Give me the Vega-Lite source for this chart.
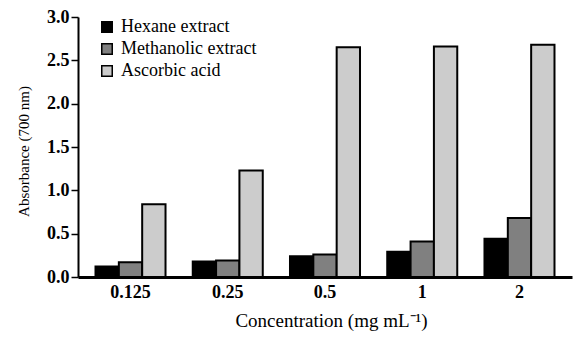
{
  "$schema": "https://vega.github.io/schema/vega-lite/v6.json",
  "autosize": "none",
  "width": 494,
  "height": 260,
  "padding": {"left": 78, "top": 17, "right": 12, "bottom": 64},
  "background": "white",
  "data": {
    "values": [
      {"conc": "0.125", "series": "Hexane extract", "value": 0.12},
      {"conc": "0.125", "series": "Methanolic extract", "value": 0.17},
      {"conc": "0.125", "series": "Ascorbic acid", "value": 0.84},
      {"conc": "0.25", "series": "Hexane extract", "value": 0.18},
      {"conc": "0.25", "series": "Methanolic extract", "value": 0.19},
      {"conc": "0.25", "series": "Ascorbic acid", "value": 1.23},
      {"conc": "0.5", "series": "Hexane extract", "value": 0.24},
      {"conc": "0.5", "series": "Methanolic extract", "value": 0.26},
      {"conc": "0.5", "series": "Ascorbic acid", "value": 2.65},
      {"conc": "1", "series": "Hexane extract", "value": 0.29},
      {"conc": "1", "series": "Methanolic extract", "value": 0.41},
      {"conc": "1", "series": "Ascorbic acid", "value": 2.66},
      {"conc": "2", "series": "Hexane extract", "value": 0.44},
      {"conc": "2", "series": "Methanolic extract", "value": 0.68},
      {"conc": "2", "series": "Ascorbic acid", "value": 2.68}
    ]
  },
  "mark": {"type": "bar", "stroke": "black", "strokeWidth": 2},
  "encoding": {
    "x": {
      "field": "conc", "type": "nominal", "sort": ["0.125", "0.25", "0.5", "1", "2"],
      "scale": {"paddingInner": 0.28, "paddingOuter": 0.18},
      "axis": {
        "title": "Concentration (mg mL⁻¹)", "labelAngle": 0, "ticks": false,
        "domainColor": "black", "domainWidth": 3,
        "labelFont": "Times New Roman, Liberation Serif, serif", "labelFontSize": 18, "labelFontWeight": "bold", "labelColor": "black", "labelPadding": 6,
        "titleFont": "Times New Roman, Liberation Serif, serif", "titleFontSize": 19, "titleFontWeight": "normal", "titleColor": "black", "titlePadding": 10, "titleX": 253
      }
    },
    "xOffset": {"field": "series", "type": "nominal", "sort": ["Hexane extract", "Methanolic extract", "Ascorbic acid"], "scale": {"paddingInner": 0, "paddingOuter": 0}},
    "y": {
      "field": "value", "type": "quantitative",
      "scale": {"domain": [0, 3]},
      "axis": {
        "title": "Absorbance (700 nm)", "values": [0, 0.5, 1, 1.5, 2, 2.5, 3], "format": ".1f", "grid": false,
        "domainColor": "black", "domainWidth": 2, "tickColor": "black", "tickWidth": 1.5, "tickSize": 7,
        "labelFont": "Times New Roman, Liberation Serif, serif", "labelFontSize": 18, "labelFontWeight": "bold", "labelColor": "black", "labelPadding": 2,
        "titleFont": "Times New Roman, Liberation Serif, serif", "titleFontSize": 15, "titleFontWeight": "normal", "titleColor": "black",
        "titleX": -55, "titleY": 134, "titleBaseline": "middle"
      }
    },
    "fill": {
      "field": "series", "type": "nominal",
      "sort": ["Hexane extract", "Methanolic extract", "Ascorbic acid"],
      "scale": {"domain": ["Hexane extract", "Methanolic extract", "Ascorbic acid"], "range": ["#000000", "#808080", "#cccccc"]},
      "legend": {
        "title": null, "orient": "none", "legendX": 20, "legendY": 1,
        "symbolType": "square", "symbolSize": 110, "symbolStrokeColor": "black", "symbolStrokeWidth": 1.5,
        "labelFont": "Times New Roman, Liberation Serif, serif", "labelFontSize": 18, "labelColor": "black", "rowPadding": 4, "labelOffset": 5
      }
    }
  },
  "config": {"view": {"stroke": null}}
}
